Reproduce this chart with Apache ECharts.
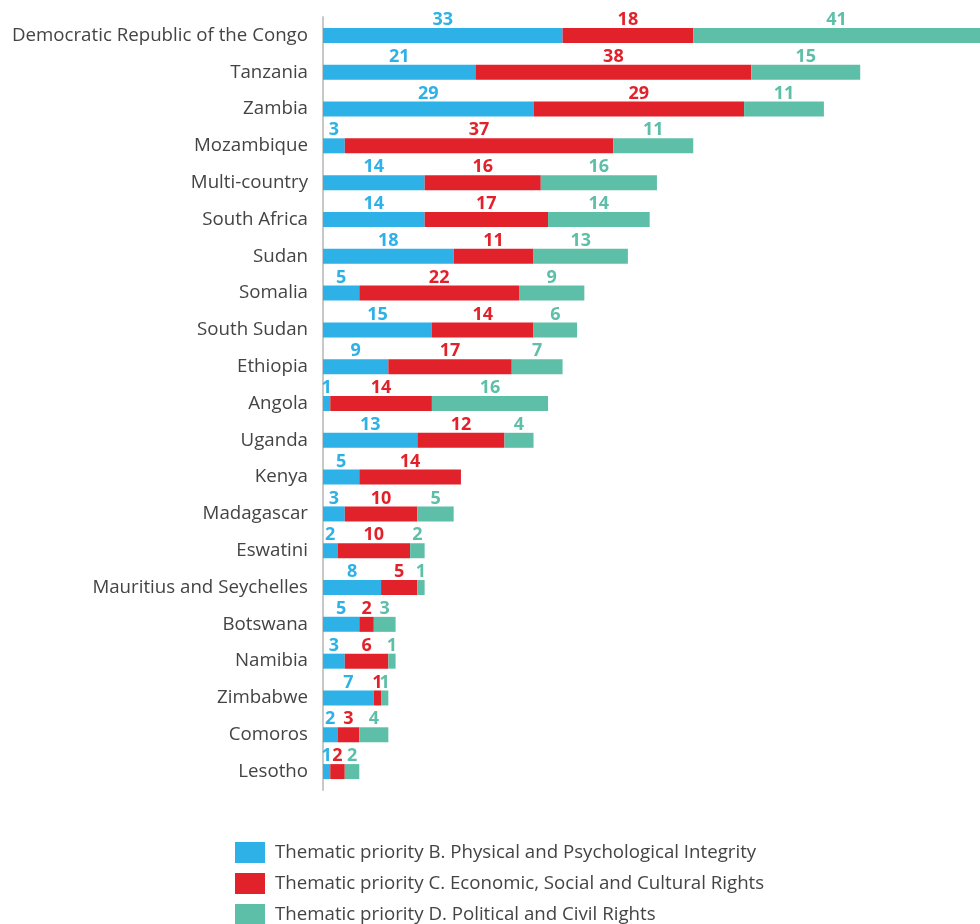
<!DOCTYPE html>
<html>
<head>
<meta charset="utf-8">
<script src="https://cdn.jsdelivr.net/npm/echarts@6/dist/echarts.min.js"></script>
<style>
html,body{margin:0;padding:0;background:#fff;overflow:hidden;}
#chart{width:980px;height:924px;}
</style>
</head>
<body>
<div id="chart"></div>
<script>
const categories = ["Democratic Republic of the Congo","Tanzania","Zambia","Mozambique","Multi-country","South Africa","Sudan","Somalia","South Sudan","Ethiopia","Angola","Uganda","Kenya","Madagascar","Eswatini","Mauritius and Seychelles","Botswana","Namibia","Zimbabwe","Comoros","Lesotho"];
const priorityB = [33,21,29,3,14,14,18,5,15,9,1,13,5,3,2,8,5,3,7,2,1];
const priorityC = [18,38,29,37,16,17,11,22,14,17,14,12,14,10,10,5,2,6,1,3,2];
const priorityD = [41,15,11,11,16,14,13,9,6,7,16,4,null,5,2,1,3,1,1,4,2];
const seriesNames = [
  "Thematic priority B. Physical and Psychological Integrity",
  "Thematic priority C. Economic, Social and Cultural Rights",
  "Thematic priority D. Political and Civil Rights"
];
const colors = ["#2DB1E6","#E2222A","#5EBFA9"];
const FONT = "Open Sans";

const chart = echarts.init(document.getElementById('chart'), null, {renderer:'canvas'});
const dataSets = [priorityB, priorityC, priorityD];
const series = dataSets.map((d, i) => ({
  name: seriesNames[i],
  type: 'bar',
  stack: 'total',
  data: d,
  barWidth: 15,
  itemStyle: {color: colors[i]},
  label: {
    show: true,
    position: 'top',
    distance: -1,
    color: colors[i],
    fontFamily: FONT,
    fontWeight: 'bold',
    fontSize: 18,
    formatter: p => (p.value == null ? '' : p.value)
  },
  emphasis: {disabled: true}
}));

chart.setOption({
  animation: false,
  textStyle: {fontFamily: FONT},
  grid: {left: 323, top: 17, width: 657, height: 773, containLabel: false},
  xAxis: {
    type: 'value', min: 0, max: 90.5,
    show: false
  },
  yAxis: {
    type: 'category',
    data: categories,
    inverse: true,
    axisLine: {show: true, lineStyle: {color: '#c8c8c8', width: 2}},
    axisTick: {show: false},
    axisLabel: {color: '#444', fontSize: 18.7, fontFamily: FONT, margin: 15, padding: [0,0,3,0]}
  },
  legend: {
    orient: 'vertical',
    left: 235, top: 842,
    height: 120,
    padding: 0,
    itemWidth: 30, itemHeight: 21,
    itemGap: 10,
    icon: 'rect',
    textStyle: {color: '#444', fontSize: 18.7, fontFamily: FONT, padding: [0,0,0,5]},
    data: seriesNames
  },
  series: series
});
</script>
</body>
</html>
